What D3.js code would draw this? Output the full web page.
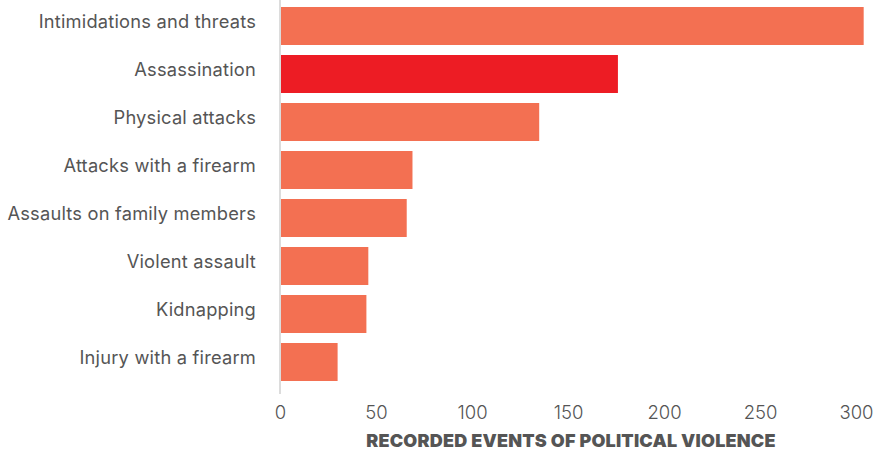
<!DOCTYPE html>
<html>
<head>
<meta charset="utf-8">
<script src="https://cdn.jsdelivr.net/npm/d3@7"></script>
<style>
  body { margin: 0; background: #fff; }
  svg { display: block; font-family: Inter, Roboto, 'Noto Sans', sans-serif; }
</style>
</head>
<body>
<script>
// chart values
const categories = [
  'Intimidations and threats',
  'Assassination',
  'Physical attacks',
  'Attacks with a firearm',
  'Assaults on family members',
  'Violent assault',
  'Kidnapping',
  'Injury with a firearm'
]
const values = [304, 176, 135, 69, 66, 46, 45, 30]
const highlight = ['Assassination']
const xTicks = [0, 50, 100, 150, 200, 250, 300]
const axisTitle = 'RECORDED EVENTS OF POLITICAL VIOLENCE'

const width = 875
const height = 455

const data = categories.map((c, i) => ({ name: c, value: values[i] }))

const svg = d3.select('body')
  .append('svg')
  .attr('width', width)
  .attr('height', height)

const x = d3.scaleLinear()
  .domain([0, 300])
  .range([280, 856])

const y = d3.scaleBand()
  .domain(categories)
  .range([7, 381])
  .paddingInner(10 / 48)
  .paddingOuter(0)

// bars
svg.append('g')
  .selectAll('rect')
  .data(data)
  .enter()
  .append('rect')
  .attr('x', x(0) + 1)
  .attr('y', d => y(d.name))
  .attr('width', d => x(d.value) - x(0) - 1)
  .attr('height', y.bandwidth())
  .attr('fill', d => highlight.includes(d.name) ? '#ed1c24' : '#f37052')

// vertical baseline
svg.append('line')
  .attr('x1', x(0))
  .attr('x2', x(0))
  .attr('y1', 0)
  .attr('y2', 394)
  .attr('stroke', '#d0d0d0')
  .attr('stroke-width', 1.5)

// category labels
svg.append('g')
  .selectAll('text')
  .data(data)
  .enter()
  .append('text')
  .attr('x', 256)
  .attr('y', d => y(d.name) + y.bandwidth() / 2 + 2)
  .attr('text-anchor', 'end')
  .attr('font-size', 18.3)
  .attr('letter-spacing', 0.2)
  .attr('fill', '#555')
  .text(d => d.name)

// x axis
const xAxis = svg.append('g')
  .attr('transform', 'translate(0,401)')
  .call(d3.axisBottom(x).tickValues(xTicks).tickSize(0).tickPadding(0))

xAxis.select('.domain').remove()
xAxis.selectAll('text')
  .attr('font-family', 'Inter, Roboto, sans-serif')
  .attr('font-size', 18.5)
  .attr('font-weight', 300)
  .attr('fill', '#555')
  .attr('dy', '0.95em')

// axis title
svg.append('text')
  .attr('x', 571)
  .attr('y', 447)
  .attr('text-anchor', 'middle')
  .attr('font-size', 18)
  .attr('font-weight', 900)
  .attr('letter-spacing', 0.2)
  .attr('fill', '#555')
  .text(axisTitle)
</script>
</body>
</html>
